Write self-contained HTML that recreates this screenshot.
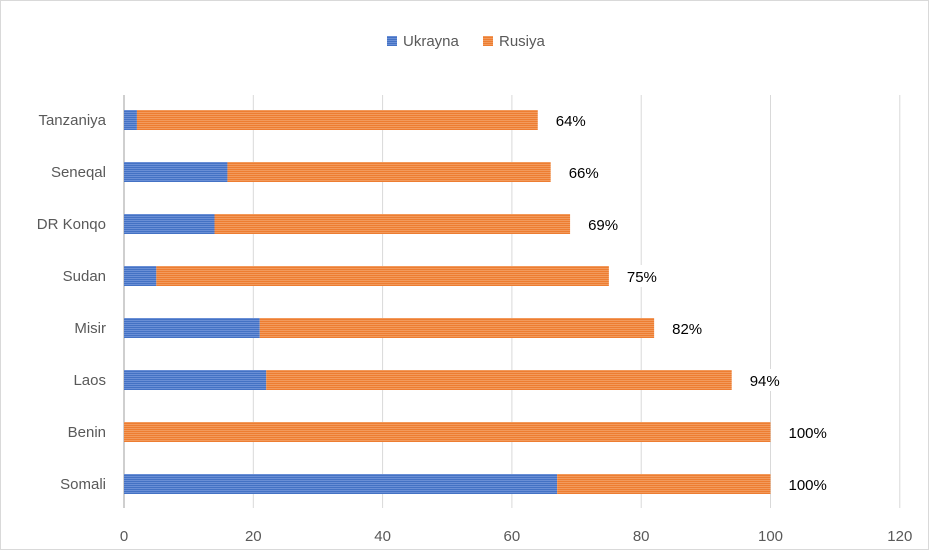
<!DOCTYPE html>
<html><head><meta charset="utf-8"><style>
body{margin:0;background:#fff;font-family:"Liberation Sans",sans-serif}
</style></head><body>
<svg width="929" height="550" xmlns="http://www.w3.org/2000/svg" font-family="Liberation Sans, sans-serif">
<defs>
<pattern id="pb" width="4" height="2" patternUnits="userSpaceOnUse"><rect width="4" height="2" fill="#4472C4"/><rect width="4" height="1" fill="#6a8fd6"/></pattern>
<pattern id="po" width="4" height="2" patternUnits="userSpaceOnUse"><rect width="4" height="2" fill="#ED7D31"/><rect width="4" height="1" fill="#f29a5c"/></pattern>
</defs>
<rect x="0.5" y="0.5" width="928" height="549" fill="#fff" stroke="#d9d9d9"/>
<g>
<rect x="387" y="36" width="10" height="10" fill="url(#pb)"/>
<text x="403" y="46" font-size="15" fill="#595959">Ukrayna</text>
<rect x="483" y="36" width="10" height="10" fill="url(#po)"/>
<text x="499" y="46" font-size="15" fill="#595959">Rusiya</text>
</g>
<g id="grid"></g><g id="bars"></g><g id="labels"></g>
</svg>
<script>
const categories=["Tanzaniya","Seneqal","DR Konqo","Sudan","Misir","Laos","Benin","Somali"];
const ukrayna=[2,16,14,5,21,22,0,67];
const rusiya=[62,50,55,70,61,72,100,33];
const pctLabels=["64%","66%","69%","75%","82%","94%","100%","100%"];
const ticks=[0,20,40,60,80,100,120];
const NS="http://www.w3.org/2000/svg";
const x0=124,pxPer=6.465,yTop=95,yBot=508,row0=120,rowStep=52,barH=20;
const xs=v=>x0+v*pxPer, ys=i=>row0+i*rowStep;
function mk(t,a,p){const e=document.createElementNS(NS,t);for(const k in a)e.setAttribute(k,a[k]);p.appendChild(e);return e;}
const grid=document.getElementById('grid'),bars=document.getElementById('bars'),labels=document.getElementById('labels');
ticks.forEach((t,i)=>{
 if(t>0){const l=mk('line',{x1:xs(t),x2:xs(t),y1:yTop,y2:yBot,stroke:'#d9d9d9','stroke-width':1},grid);
 
 }
 const tx=mk('text',{x:xs(t),y:541,'font-size':15,fill:'#595959','text-anchor':'middle'},grid);tx.textContent=t;
 
 
});
const ax=mk('line',{x1:x0,x2:x0,y1:yTop,y2:yBot,stroke:'#bfbfbf','stroke-width':1.5},grid);


categories.forEach((c,i)=>{
 const y=ys(i);
 const cl=mk('text',{x:106,y:y+5,'font-size':15,fill:'#595959','text-anchor':'end'},labels);cl.textContent=c;
 
 
 const b1=mk('rect',{x:xs(0),y:y-barH/2,width:ukrayna[i]*pxPer,height:barH,fill:'url(#pb)'},bars);
 
 
 const b2=mk('rect',{x:xs(ukrayna[i]),y:y-barH/2,width:rusiya[i]*pxPer,height:barH,fill:'url(#po)'},bars);
 
 
 const end=xs(ukrayna[i]+rusiya[i]);
 const bg=mk('rect',{x:end+14,y:y-11,width:pctLabels[i].length*9+8,height:22,fill:'#fff'},labels);
 
 
 const vl=mk('text',{x:end+18,y:y+6,'font-size':15,fill:'#000'},labels);vl.textContent=pctLabels[i];
 
 
});
</script>
</body></html>
